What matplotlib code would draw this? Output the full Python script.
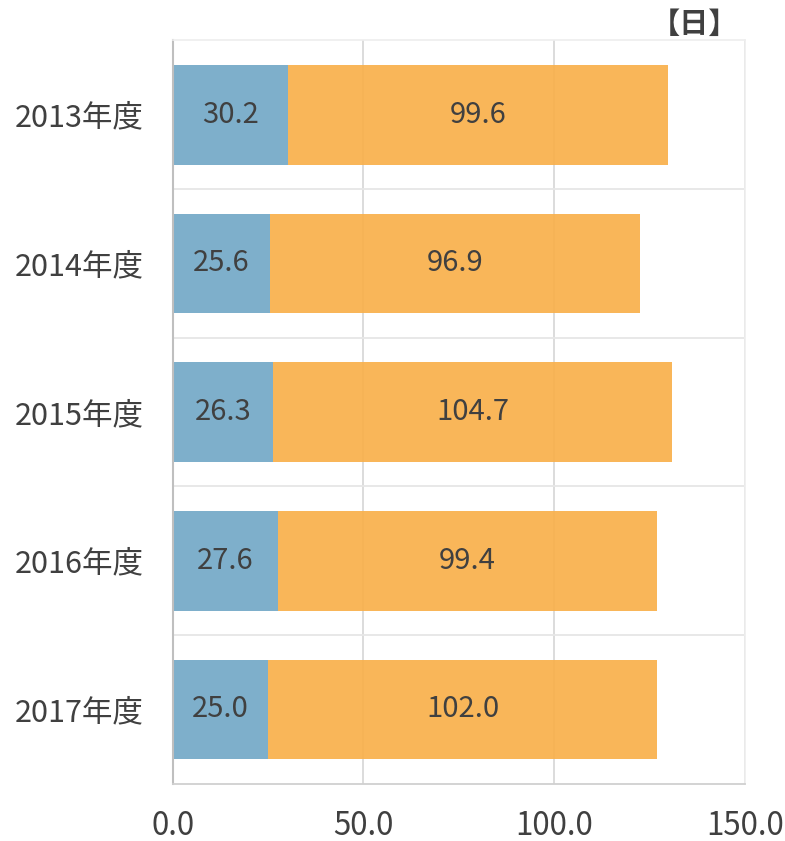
import matplotlib.pyplot as plt
import numpy as np

plt.rcParams['font.family'] = ['Noto Sans CJK JP', 'DejaVu Sans']

years = ["2013年度", "2014年度", "2015年度", "2016年度", "2017年度"]
first_part = [30.2, 25.6, 26.3, 27.6, 25.0]
second_part = [99.6, 96.9, 104.7, 99.4, 102.0]
x_ticks = [0, 50, 100, 150]

BLUE = "#77abc9"
ORANGE = "#f9b04b"
TEXT = "#404040"

fig = plt.figure(figsize=(7.85, 8.41), dpi=100)
ax = fig.add_axes([0.220, 0.068, 0.729, 0.884])

y = np.arange(len(years))
h = 0.67
ax.barh(y, first_part, height=h, color=BLUE, alpha=0.95, zorder=2)
ax.barh(y, second_part, left=first_part, height=h, color=ORANGE, alpha=0.92, zorder=2)

for i in range(len(years)):
    ax.text(first_part[i] / 2, y[i], f"{first_part[i]:.1f}", ha="center", va="center",
            fontsize=21, color=TEXT, zorder=3)
    ax.text(first_part[i] + second_part[i] / 2, y[i], f"{second_part[i]:.1f}",
            ha="center", va="center", fontsize=21, color=TEXT, zorder=3)

# category separators
for b in np.arange(0.5, len(years) - 0.5, 1):
    ax.axhline(b, color="#e6e6e6", linewidth=1.3, zorder=1)

ax.set_xlim(0, 150)
ax.set_ylim(len(years) - 0.5, -0.5)
ax.set_xticks(x_ticks)
ax.set_xticklabels([f"{v:.1f}" for v in x_ticks], fontsize=22.5, color=TEXT)
ax.set_yticks(y)
ax.set_yticklabels(years, fontsize=22, color=TEXT)
ax.tick_params(axis="both", length=0)
ax.tick_params(axis="x", pad=19)
ax.tick_params(axis="y", pad=21)

ax.grid(axis="x", color="#d9d9d9", linewidth=1.3, zorder=1)
ax.set_axisbelow(True)

for side in ["top", "right"]:
    ax.spines[side].set_color("#eeeeee")
    ax.spines[side].set_linewidth(1.2)
ax.spines["left"].set_color("#bfbfbf")
ax.spines["left"].set_linewidth(1.5)
ax.spines["bottom"].set_color("#d0d0d0")
ax.spines["bottom"].set_linewidth(1.3)

fig.text(0.885, 0.972, "【日】", ha="center", va="center", fontsize=21,
         color=TEXT, fontweight="bold")

fig.savefig("out.png", dpi=100)
